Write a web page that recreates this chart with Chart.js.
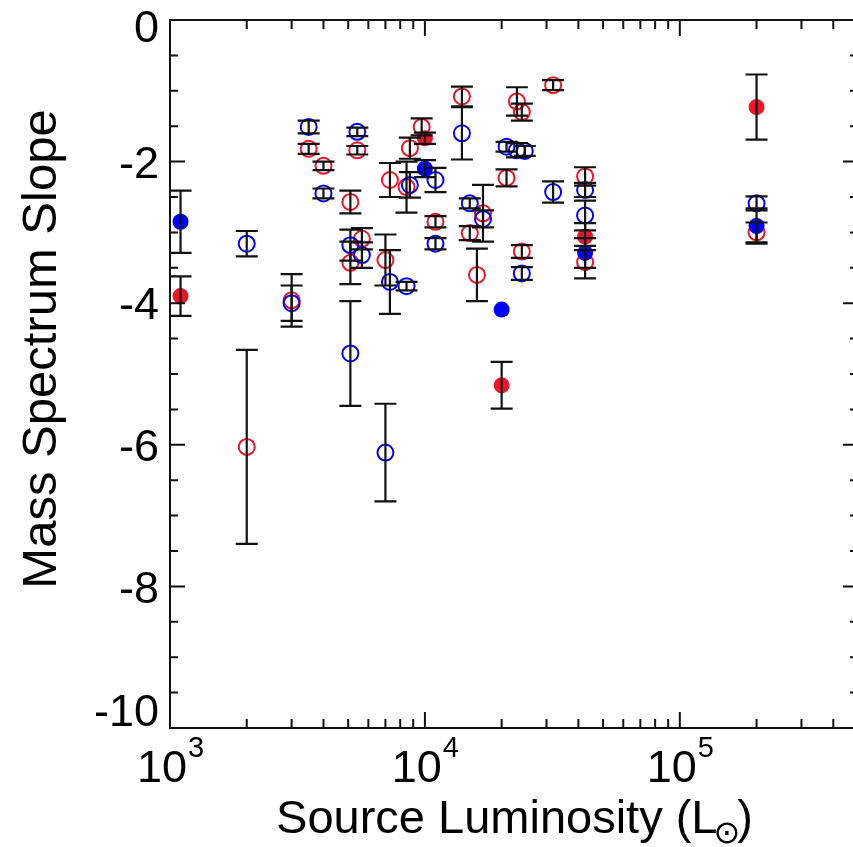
<!DOCTYPE html>
<html><head><meta charset="utf-8">
<style>
html,body{margin:0;padding:0;background:#fff;overflow:hidden;width:853px;height:847px}
#wrap{width:870px;height:847px;position:relative}
canvas{display:block}
</style>
<script src="https://cdn.jsdelivr.net/npm/chart.js@4.4.1/dist/chart.umd.min.js"></script>
</head><body>
<div id="wrap"><canvas id="c" width="870" height="847"></canvas></div>
<script>
// ---------- data (Source luminosity in L_sun, mass-spectrum slope, 1-sigma error) ----------
const blueFilledL     = [1100, 10000, 20000, 42500, 200000];
const blueFilledSlope = [-2.85, -2.10, -4.09, -3.29, -2.91];
const blueFilledErr   = [0.44, 0.12, 0, 0.21, 0.25];

const redFilledL      = [1100, 10000, 20000, 42500, 200000];
const redFilledSlope  = [-3.90, -1.67, -5.16, -3.06, -1.23];
const redFilledErr    = [0.28, 0.08, 0.33, 0.19, 0.46];

const blueOpenL     = [2000, 3000, 3500, 4000, 5100, 5100, 5430, 5660, 7000, 7290, 8470, 8730, 11000, 11000, 13970, 15000, 16900, 20900, 22960, 24660, 24000, 31840, 42500, 42500, 200000];
const blueOpenSlope = [-3.16, -4.00, -1.51, -2.45, -3.18, -4.71, -1.58, -3.32, -6.11, -3.70, -3.76, -2.33, -2.26, -3.16, -1.60, -2.59, -2.81, -1.79, -1.84, -1.85, -3.58, -2.43, -2.40, -2.76, -2.59];
const blueOpenErr   = [0.18, 0.25, 0.09, 0.07, 0.22, 0.74, 0.06, 0.18, 0.69, 0.45, 0.06, 0.18, 0.17, 0.08, 0.37, 0.07, 0.12, 0.07, 0.10, 0.07, 0.09, 0.15, 0.10, 0.21, 0.10];

const redOpenL     = [2000, 3000, 3500, 4000, 5100, 5100, 5430, 5660, 7000, 7290, 8470, 8730, 9710, 11000, 13970, 15000, 16000, 16900, 20900, 22960, 24000, 24000, 31840, 42500, 42500, 200000];
const redOpenSlope = [-6.03, -3.96, -1.82, -2.06, -2.57, -3.43, -1.84, -3.09, -3.39, -2.26, -2.36, -1.81, -1.51, -2.85, -1.08, -3.01, -3.60, -2.73, -2.23, -1.15, -1.30, -3.27, -0.92, -2.21, -3.42, -3.00];
const redOpenErr   = [1.37, 0.37, 0.07, 0.06, 0.16, 0.30, 0.06, 0.15, 0.36, 0.24, 0.36, 0.15, 0.12, 0.08, 0.14, 0.10, 0.37, 0.40, 0.12, 0.20, 0.12, 0.09, 0.07, 0.13, 0.23, 0.14];

// ---------- axes ----------
const xMin = 1000, xMax = 500000;
const yMin = -10, yMax = 0;
const xMajorTicks = [1000, 10000, 100000];
const xTickExponents = ['3', '4', '5'];
const yMajorTicks = [0, -2, -4, -6, -8, -10];
const yTickLabels = ['0', '-2', '-4', '-6', '-8', '-10'];
const yMinorStep = 0.5;

const xTitle = 'Source Luminosity (L';
const xTitleSub = '\u2299';
const xTitleEnd = ')';
const yTitle = 'Mass Spectrum Slope';

const BLUE = '#0000ff';
const RED = '#f01428';
const FONT = "'Liberation Sans', Arial, Helvetica, sans-serif";

function pts(L, S, E) { return L.map((l, i) => ({ x: l, y: S[i], e: E[i] })); }

function xMinorTicks() {
  const out = [];
  for (let d = 1000; d < xMax; d *= 10)
    for (let m = 2; m <= 9; m++) { const v = m * d; if (v < xMax) out.push(v); }
  return out;
}

const errorBars = {
  id: 'errorBars',
  afterDatasetsDraw(chart) {
    const { ctx, scales: { x, y } } = chart;
    ctx.save();
    ctx.strokeStyle = '#111';
    ctx.lineWidth = 2.2;
    chart.data.datasets.forEach(ds => {
      ds.data.forEach(p => {
        if (!p.e) return;
        const px = x.getPixelForValue(p.x);
        const y1 = y.getPixelForValue(p.y + p.e);
        const y2 = y.getPixelForValue(p.y - p.e);
        ctx.beginPath();
        ctx.moveTo(px, y1); ctx.lineTo(px, y2);
        ctx.moveTo(px - 11, y1); ctx.lineTo(px + 11, y1);
        ctx.moveTo(px - 11, y2); ctx.lineTo(px + 11, y2);
        ctx.stroke();
      });
    });
    ctx.restore();
  }
};

const frameAxes = {
  id: 'frameAxes',
  afterDraw(chart) {
    const { ctx, chartArea: a, scales: { x, y } } = chart;
    ctx.save();
    ctx.strokeStyle = '#111';
    ctx.fillStyle = '#000';
    ctx.lineWidth = 2;
    ctx.lineCap = 'butt';
    // frame
    ctx.beginPath();
    ctx.rect(a.left, a.top, a.right - a.left, a.bottom - a.top);
    ctx.stroke();
    // x ticks (bottom and top, inward)
    ctx.beginPath();
    const xt = (v, len) => {
      const px = x.getPixelForValue(v);
      ctx.moveTo(px, a.bottom); ctx.lineTo(px, a.bottom - len);
      ctx.moveTo(px, a.top); ctx.lineTo(px, a.top + len);
    };
    xMajorTicks.forEach(v => xt(v, 16));
    xMinorTicks().forEach(v => xt(v, 9));
    // y ticks (left and right, inward)
    const yt = (v, len) => {
      const py = y.getPixelForValue(v);
      ctx.moveTo(a.left, py); ctx.lineTo(a.left + len, py);
      ctx.moveTo(a.right, py); ctx.lineTo(a.right - len, py);
    };
    for (let v = yMax; v >= yMin - 1e-9; v -= yMinorStep) {
      const major = yMajorTicks.some(t => Math.abs(t - v) < 1e-9);
      yt(v, major ? 15 : 8);
    }
    ctx.stroke();

    // y tick labels
    ctx.font = '45px ' + FONT;
    ctx.textAlign = 'right';
    ctx.textBaseline = 'alphabetic';
    yMajorTicks.forEach((v, i) => {
      let c = y.getPixelForValue(v);
      c = Math.max(a.top + 6, Math.min(a.bottom - 18, c));
      ctx.fillText(yTickLabels[i], 159, c + 0.358 * 45);
    });

    // x tick labels: 10 with superscript exponent
    xMajorTicks.forEach((v, i) => {
      const px = x.getPixelForValue(v);
      ctx.font = '45px ' + FONT;
      const w1 = ctx.measureText('10').width;
      ctx.font = '29px ' + FONT;
      const w2 = ctx.measureText(xTickExponents[i]).width;
      const start = px - (w1 + w2) / 2;
      ctx.textAlign = 'left';
      ctx.font = '45px ' + FONT;
      ctx.fillText('10', start, 782);
      ctx.font = '29px ' + FONT;
      ctx.fillText(xTickExponents[i], start + w1 + 1, 757);
    });

    // x title
    ctx.font = '47px ' + FONT;
    const t1 = ctx.measureText(xTitle).width;
    const t3 = ctx.measureText(xTitleEnd).width;
    ctx.font = "32px 'DejaVu Sans', sans-serif";
    const t2 = ctx.measureText(xTitleSub).width;
    const cx = (a.left + a.right) / 2;
    let sx = cx - (t1 + t2 + t3) / 2 + 4;
    ctx.textAlign = 'left';
    ctx.font = '47px ' + FONT;
    ctx.fillText(xTitle, sx, 833);
    ctx.font = "32px 'DejaVu Sans', sans-serif";
    ctx.fillText(xTitleSub, sx + t1 - 4, 843);
    ctx.font = '47px ' + FONT;
    ctx.fillText(xTitleEnd, sx + t1 + t2 - 7, 833);

    // y title
    ctx.save();
    ctx.translate(56, 349);
    ctx.rotate(-Math.PI / 2);
    ctx.textAlign = 'center';
    ctx.font = '49px ' + FONT;
    ctx.fillText(yTitle, 0, 0);
    ctx.restore();
    ctx.restore();
  }
};

new Chart(document.getElementById('c'), {
  type: 'scatter',
  data: {
    datasets: [
      { label: 'blue filled', data: pts(blueFilledL, blueFilledSlope, blueFilledErr),
        pointRadius: 8, pointBackgroundColor: BLUE, pointBorderColor: BLUE, pointBorderWidth: 0, order: 0 },
      { label: 'red filled', data: pts(redFilledL, redFilledSlope, redFilledErr),
        pointRadius: 8, pointBackgroundColor: RED, pointBorderColor: RED, pointBorderWidth: 0, order: 1 },
      { label: 'blue open', data: pts(blueOpenL, blueOpenSlope, blueOpenErr),
        pointRadius: 8, pointBackgroundColor: 'rgba(0,0,0,0)', pointBorderColor: BLUE, pointBorderWidth: 2, order: 2 },
      { label: 'red open', data: pts(redOpenL, redOpenSlope, redOpenErr),
        pointRadius: 8, pointBackgroundColor: 'rgba(0,0,0,0)', pointBorderColor: RED, pointBorderWidth: 2, order: 3 }
    ]
  },
  options: {
    responsive: false,
    animation: false,
    devicePixelRatio: 1,
    layout: { padding: { left: 170, top: 20, right: 12, bottom: 119 } },
    plugins: { legend: { display: false }, tooltip: { enabled: false } },
    scales: {
      x: { type: 'logarithmic', min: xMin, max: xMax, display: false },
      y: { type: 'linear', min: yMin, max: yMax, display: false }
    }
  },
  plugins: [errorBars, frameAxes]
});
</script>
</body></html>
